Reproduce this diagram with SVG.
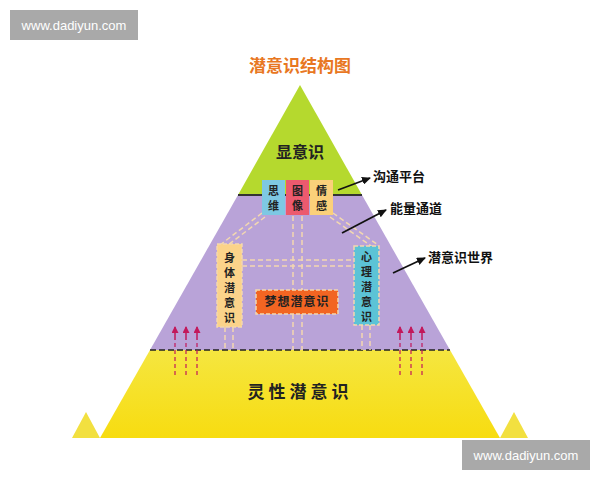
<svg xmlns="http://www.w3.org/2000/svg" width="600" height="480" viewBox="0 0 600 480">
<defs>
<style>
.t{font-family:"Noto Sans CJK SC","Noto Sans CJK JP",sans-serif;font-weight:bold;text-anchor:middle}
.s{font-size:11px}
.lb{font-family:"Noto Sans CJK SC",serif;font-weight:bold;font-size:13px;fill:#111}
.ln{stroke:#f3d8b0;stroke-width:1.5;stroke-dasharray:5 3;fill:none}
.ar{stroke:#111;stroke-width:1.8;marker-end:url(#a)}
.rd{stroke:#c2185b;stroke-width:1.2;stroke-dasharray:4 3}
.ra{stroke:#c2185b;stroke-width:1.5;marker-end:url(#r)}
.bx{stroke:#f3d8b0;stroke-width:1.5;stroke-dasharray:4 2}
</style>
<marker id="a" markerUnits="userSpaceOnUse" markerWidth="9" markerHeight="8" refX="8" refY="4" orient="auto"><path d="M0,0L9,4L0,8z" fill="#111"/></marker>
<marker id="r" markerUnits="userSpaceOnUse" markerWidth="7" markerHeight="7" refX="6" refY="3.5" orient="auto"><path d="M0,0L7,3.5L0,7z" fill="#c2185b"/></marker>
<linearGradient id="y" x1="0" y1="0" x2="0" y2="1"><stop offset="0" stop-color="#f5e640"/><stop offset="1" stop-color="#f7dc10"/></linearGradient>
</defs>
<rect width="600" height="480" fill="#fff"/>
<g id="pyramid">
<polygon points="300,85 362,195 238,195" fill="#b5d92e"/>
<polygon points="238,195 362,195 450,350 150,350" fill="#b9a3d8"/>
<polygon points="150,350 450,350 500,438 100,438" fill="url(#y)"/>
<polygon points="72,438 86,412 100,438" fill="#f2e040"/>
<polygon points="500,438 514,412 528,438" fill="#f2e040"/>
<line x1="238" y1="195" x2="362" y2="195" stroke="#333" stroke-width="2"/>
<line x1="150" y1="350" x2="450" y2="350" stroke="#222" stroke-width="1.5" stroke-dasharray="6 3"/>
</g>
<text x="300" y="72" class="t" font-size="17" fill="#e87722">潜意识结构图</text>
<text x="300" y="158" class="t" font-size="16" fill="#222">显意识</text>
<text x="300" y="398" class="t" font-size="17" fill="#222" letter-spacing="4">灵性潜意识</text>
<g id="connectors">
<path class="ln" d="M262,213 L220,245 M265,217 L224,248 M333,213 L378,245 M330,217 L374,248"/>
<path class="ln" d="M242,260 H354 M242,266 H354"/>
<path class="ln" d="M293,216 V290 M302,216 V290 M293,314 V350 M302,314 V350"/>
<path class="ln" d="M225,327 V350 M233,327 V350 M362,325 V350 M370,325 V350"/>
<line class="ar" x1="338" y1="190" x2="370" y2="178"/>
<line class="ar" x1="342" y1="233" x2="386" y2="210"/>
<line class="ar" x1="393" y1="273" x2="425" y2="258"/>
<g>
<line class="rd" x1="175" y1="375" x2="175" y2="340"/><line class="ra" x1="175" y1="340" x2="175" y2="327"/>
<line class="rd" x1="186" y1="375" x2="186" y2="340"/><line class="ra" x1="186" y1="340" x2="186" y2="327"/>
<line class="rd" x1="197" y1="375" x2="197" y2="340"/><line class="ra" x1="197" y1="340" x2="197" y2="327"/>
<line class="rd" x1="400" y1="375" x2="400" y2="340"/><line class="ra" x1="400" y1="340" x2="400" y2="327"/>
<line class="rd" x1="411" y1="375" x2="411" y2="340"/><line class="ra" x1="411" y1="340" x2="411" y2="327"/>
<line class="rd" x1="422" y1="375" x2="422" y2="340"/><line class="ra" x1="422" y1="340" x2="422" y2="327"/>
</g>
</g>
<g id="siwei"><rect x="262" y="180" width="23" height="35" fill="#7ec8e3"/><text x="273.5" y="195" class="t s" fill="#222">思</text><text x="273.5" y="210" class="t s" fill="#222">维</text></g>
<g id="tuxiang"><rect x="286" y="180" width="23" height="35" fill="#ec5a6e"/><text x="297.5" y="195" class="t s" fill="#222">图</text><text x="297.5" y="210" class="t s" fill="#222">像</text></g>
<g id="qinggan"><rect x="310" y="180" width="23" height="35" fill="#fbd07a"/><text x="321.5" y="195" class="t s" fill="#222">情</text><text x="321.5" y="210" class="t s" fill="#222">感</text></g>
<g id="shenti"><rect x="217" y="244" width="25" height="83" fill="#fbd38a" class="bx"/>
<text class="t s" fill="#222" x="229.5"><tspan x="229.5" y="262">身</tspan><tspan x="229.5" y="277">体</tspan><tspan x="229.5" y="292">潜</tspan><tspan x="229.5" y="307">意</tspan><tspan x="229.5" y="322">识</tspan></text></g>
<g id="xinli"><rect x="354" y="246" width="25" height="79" fill="#5cc3d6" class="bx"/>
<text class="t s" fill="#222" x="366.5"><tspan x="366.5" y="261">心</tspan><tspan x="366.5" y="276">理</tspan><tspan x="366.5" y="291">潜</tspan><tspan x="366.5" y="306">意</tspan><tspan x="366.5" y="321">识</tspan></text></g>
<g id="mengxiang"><rect x="256" y="290" width="82" height="24" fill="#f26522" class="bx"/><text x="297" y="306" class="t" font-size="12" fill="#222" letter-spacing="1">梦想潜意识</text></g>
<text x="373" y="181" class="lb">沟通平台</text>
<text x="390" y="213" class="lb">能量通道</text>
<text x="428" y="262" class="lb">潜意识世界</text>
<g id="wm1"><rect x="10" y="10" width="128" height="30" fill="#a9a9a9"/><text x="74" y="30" font-family="Liberation Sans,sans-serif" font-size="13" fill="#fff" text-anchor="middle">www.dadiyun.com</text></g>
<g id="wm2"><rect x="462" y="440" width="128" height="30" fill="#a9a9a9"/><text x="526" y="460" font-family="Liberation Sans,sans-serif" font-size="13" fill="#fff" text-anchor="middle">www.dadiyun.com</text></g>
</svg>
